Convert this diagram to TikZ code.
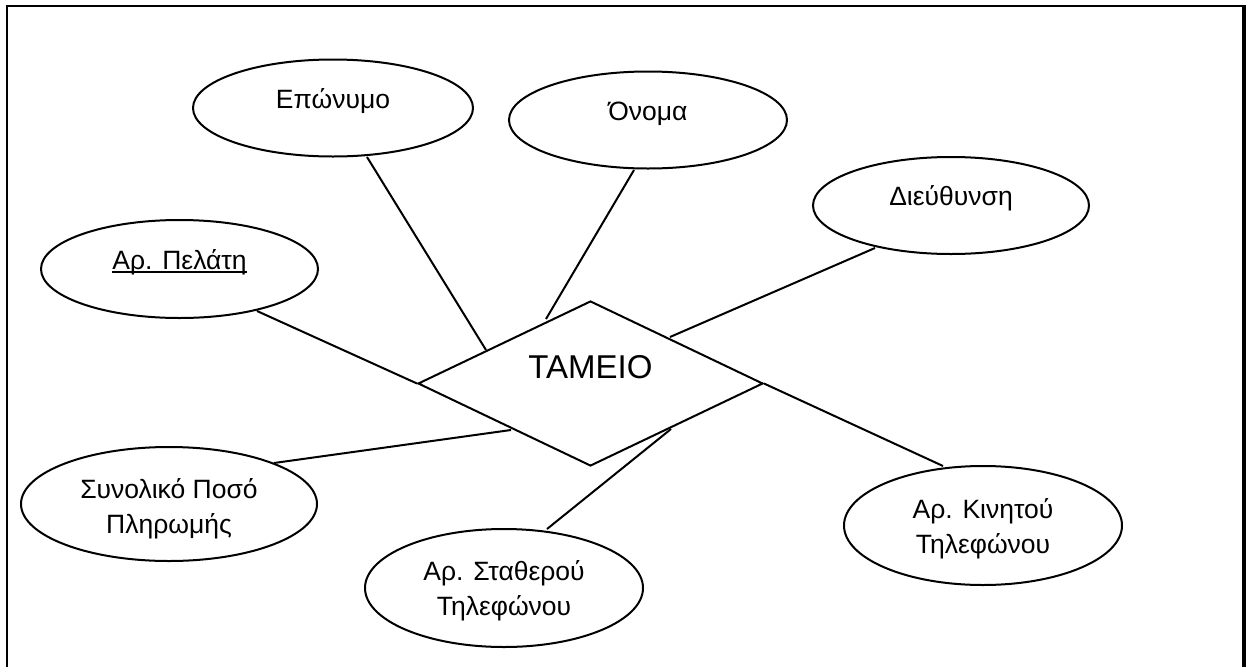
\documentclass[tikz,border=0pt]{standalone}
\usepackage{fontspec}
\setmainfont{Liberation Sans}
\usetikzlibrary{shapes.geometric,calc}
\begin{document}
\begin{tikzpicture}[x=1pt,y=-1pt,
  attr/.style={ellipse, draw, line width=2pt, inner sep=0pt},
  rel/.style={diamond, draw, line width=2pt, inner sep=0pt,
              minimum width=345pt, minimum height=165pt},
  lbl/.style={inner sep=0pt, anchor=base, align=center,
              font=\fontsize{26.5}{35}\selectfont},
  link/.style={line width=2pt},
  frame/.style={line width=2.2pt}]

% page and outer frame
\fill[white] (0,0) rectangle (1251,667);
\useasboundingbox (0,0) rectangle (1251,667);
\draw[frame] (7,700) -- (7,6) -- (1244,6);
\draw[line width=3.2pt] (1244,4.9) -- (1244,700);

% attributes
\node[attr, minimum width=280pt, minimum height=97pt]  (epo) at (333,108)     {};
\node[attr, minimum width=278pt, minimum height=97pt]  (ono) at (648,120)     {};
\node[attr, minimum width=276pt, minimum height=97pt]  (die) at (951,205.5)   {};
\node[attr, minimum width=277pt, minimum height=98pt]  (pel) at (179.5,269)   {};
\node[attr, minimum width=296pt, minimum height=114pt] (syn) at (169,504)     {};
\node[attr, minimum width=278pt, minimum height=118pt] (sta) at (504,588)     {};
\node[attr, minimum width=278pt, minimum height=119pt] (kin) at (983,525.5)   {};

% entity
\node[rel] (tam) at (590.5,383.5) {};

% labels (base anchor = baseline of the last line)
\node[lbl] (epo-t) at (epo.center) {Επώνυμο};
\node[lbl] (ono-t) at (ono.center) {Όνομα};
\node[lbl] (die-t) at (die.center) {Διεύθυνση};
\node[lbl] (pel-t) at (pel.center) {Αρ. Πελάτη};
\node[lbl] (syn-t) at ($(syn)+(0,29)$) {Συνολικό Ποσό\\Πληρωμής};
\node[lbl] (sta-t) at ($(sta)+(0,27.5)$) {Αρ. Σταθερού\\Τηλεφώνου};
\node[lbl] (kin-t) at ($(kin)+(0,27.5)$) {Αρ. Κινητού\\Τηλεφώνου};
\node[lbl, font=\fontsize{33}{40}\selectfont] (tam-t) at ($(tam)+(0,-5.5)$) {ΤΑΜΕΙΟ};

% key attribute underline
\draw[line width=1.4pt] ($(pel-t.base west)+(0,3)$) -- ($(pel-t.base east)+(0,3)$);

% connectors
\draw[link] ($(epo)+(34,49)$)     -- ($(tam)+(-104.5,-33.5)$);
\draw[link] ($(ono)+(-14,50)$)    -- ($(tam)+(-44.5,-64.5)$);
\draw[link] ($(die)+(-76,42.5)$)  -- ($(tam)+(79.5,-46.5)$);
\draw[link] ($(pel)+(77.5,42)$)   -- (tam.west);
\draw[link] ($(syn)+(105,-41)$)   -- ($(tam)+(-79.5,46.5)$);
\draw[link] ($(sta)+(43,-59)$)    -- ($(tam)+(80.5,45.5)$);
\draw[link] (tam.east)            -- ($(kin)+(-40,-59.5)$);
\end{tikzpicture}
\end{document}
